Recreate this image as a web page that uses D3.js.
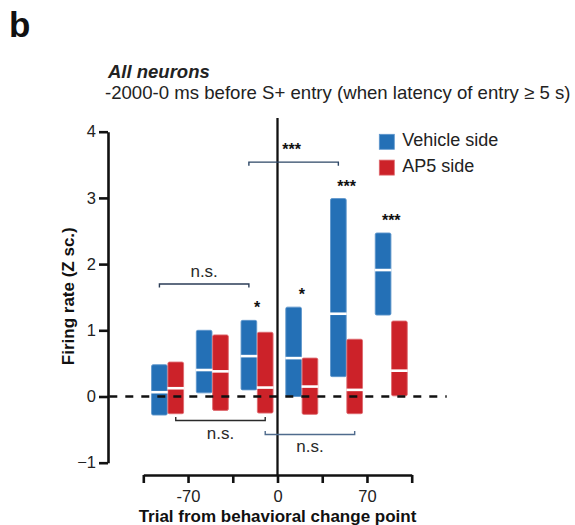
<!DOCTYPE html>
<html>
<head>
<meta charset="utf-8">
<script src="https://cdn.jsdelivr.net/npm/d3@7/dist/d3.min.js"></script>
<style>
  html, body { margin: 0; padding: 0; background: #fff; }
  svg { display: block; font-family: "Liberation Sans", Arial, Helvetica, sans-serif; }
</style>
</head>
<body>
<svg id="chart" width="575" height="525"></svg>
<script>
// Trial bins (centre, in trials from the behavioural change point)
const binCenters = [-86, -51, -16, 19, 54, 89];

// Vehicle side: interquartile box (low/high) and median, Z-scored firing rate
const vehicleLow    = [-0.28, 0.055, 0.10, 0.00, 0.30, 1.23];
const vehicleHigh   = [ 0.48, 1.00,  1.15, 1.35, 2.99, 2.47];
const vehicleMedian = [ 0.065, 0.40, 0.61, 0.58, 1.25, 1.91];

// AP5 side
const ap5Low    = [-0.26, -0.21, -0.25, -0.27, -0.26, 0.01];
const ap5High   = [ 0.52,  0.93,  0.97,  0.58,  0.865, 1.14];
const ap5Median = [ 0.125, 0.38,  0.135, 0.15,  0.10,  0.39];

// Per-bin significance of the vehicle vs AP5 comparison
const binStars = ["", "", "*", "*", "***", "***"];

// Between-bin comparisons: series, first bin index, second bin index, result
const comparisons = [
  { series: "vehicle", from: 0, to: 2, label: "n.s.", level: 1.70,  side: "above" },
  { series: "vehicle", from: 2, to: 4, label: "***",  level: 3.54,  side: "above" },
  { series: "ap5",     from: 0, to: 2, label: "n.s.", level: -0.363, side: "below" },
  { series: "ap5",     from: 2, to: 4, label: "n.s.", level: -0.574, side: "below" }
];

const xTicks = [-105, -70, -35, 0, 35, 70, 105];
const xTickLabels = ["", "-70", "", "0", "", "70", ""];
const yTicks = [-1, 0, 1, 2, 3, 4];

const seriesNames = ["Vehicle side", "AP5 side"];
const colors = { vehicle: "#2470b6", ap5: "#cc2229" };
const edgeColors = { vehicle: "#5f96cc", ap5: "#de6a6f" };
const bracketColors = ["#2b3d57", "#2d4766", "#2a2a2a", "#4f6b8d"];

const svg = d3.select("#chart");

const x = d3.scaleLinear().domain([-105, 105]).range([143.3, 411.7]);
const y = d3.scaleLinear().domain([-1, 4]).range([462.7, 131.7]);
const sub = d3.scaleBand().domain(["vehicle", "ap5"]).range([-16, 16]).paddingInner(0.04);

// panel letter
svg.append("text").attr("x", 9).attr("y", 37)
  .style("font-size", "35px").style("font-weight", "bold").attr("fill", "#111").text("b");

// titles
svg.append("text").attr("x", 108).attr("y", 77.7)
  .style("font-size", "18.5px").style("font-weight", "bold").style("font-style", "italic")
  .attr("fill", "#222").text("All neurons");
svg.append("text").attr("x", 105).attr("y", 99)
  .style("font-size", "18.6px").attr("fill", "#222")
  .text("-2000-0 ms before S+ entry (when latency of entry \u2265 5 s)");

// y axis
const yAxis = svg.append("g").attr("transform", "translate(108,0)")
  .call(d3.axisLeft(y).tickValues(yTicks).tickFormat(d3.format("d"))
    .tickSize(9).tickSizeOuter(0).tickPadding(3));
yAxis.select(".domain").attr("stroke", "#111").attr("stroke-width", 2.6);
yAxis.selectAll(".tick line").attr("stroke", "#111").attr("stroke-width", 2.6);
yAxis.selectAll(".tick text").style("font-size", "16.5px").attr("fill", "#222")
  .style("font-family", "'Liberation Sans', Arial, sans-serif");

// x axis
const xAxis = svg.append("g").attr("transform", "translate(0,475)")
  .call(d3.axisBottom(x).tickValues(xTicks).tickSize(8).tickSizeOuter(0).tickPadding(7)
    .tickFormat((d, i) => xTickLabels[i]));
xAxis.select(".domain").attr("stroke", "#111").attr("stroke-width", 2.6);
xAxis.selectAll(".tick line").attr("stroke", "#111").attr("stroke-width", 2.6);
xAxis.selectAll(".tick text").style("font-size", "16.5px").attr("fill", "#222")
  .style("font-family", "'Liberation Sans', Arial, sans-serif");

// axis titles
svg.append("text")
  .attr("transform", `translate(74,${(y(4) + y(-1)) / 2 - 1}) rotate(-90)`)
  .attr("text-anchor", "middle")
  .style("font-size", "17px").style("font-weight", "bold").attr("fill", "#111")
  .text("Firing rate (Z sc.)");
svg.append("text").attr("x", (x(-105) + x(105)) / 2).attr("y", 521.7)
  .attr("text-anchor", "middle")
  .style("font-size", "17px").style("font-weight", "bold").attr("fill", "#111")
  .text("Trial from behavioral change point");

// change-point line
svg.append("line").attr("x1", x(0)).attr("x2", x(0)).attr("y1", 118).attr("y2", 475)
  .attr("stroke", "#111").attr("stroke-width", 2.3);

// boxes
const boxes = [];
binCenters.forEach((c, i) => {
  boxes.push({ series: "vehicle", c, lo: vehicleLow[i], hi: vehicleHigh[i], med: vehicleMedian[i] });
  boxes.push({ series: "ap5", c, lo: ap5Low[i], hi: ap5High[i], med: ap5Median[i] });
});

const g = svg.append("g");
g.selectAll("rect.box").data(boxes).join("rect").attr("class", "box")
  .attr("x", d => x(d.c) + sub(d.series))
  .attr("width", sub.bandwidth())
  .attr("y", d => y(d.hi))
  .attr("height", d => y(d.lo) - y(d.hi))
  .attr("rx", 1.5)
  .attr("fill", d => colors[d.series])
  .attr("stroke", d => edgeColors[d.series])
  .attr("stroke-width", 0.9);

g.selectAll("line.med").data(boxes).join("line").attr("class", "med")
  .attr("x1", d => x(d.c) + sub(d.series) - 0.5)
  .attr("x2", d => x(d.c) + sub(d.series) + sub.bandwidth() + 0.5)
  .attr("y1", d => y(d.med)).attr("y2", d => y(d.med))
  .attr("stroke", "#fff").attr("stroke-width", 2.6);

// zero reference
svg.append("line").attr("x1", 109.3).attr("x2", 446.7).attr("y1", y(0)).attr("y2", y(0))
  .attr("stroke", "#111").attr("stroke-width", 2.5).attr("stroke-dasharray", "8,8");

// per-bin stars
svg.selectAll("text.star").data(binCenters.map((c, i) => ({
    c, s: binStars[i], top: Math.max(vehicleHigh[i], ap5High[i]) })).filter(d => d.s))
  .join("text").attr("class", "star")
  .attr("x", d => x(d.c)).attr("y", d => y(d.top) - 16 + 9)
  .attr("text-anchor", "middle").style("font-size", "16px").style("font-weight", "bold")
  .attr("fill", "#111")
  .text(d => d.s);

// comparison brackets
const seriesX = (s, i) => x(binCenters[i]) + sub(s) + sub.bandwidth() / 2;
comparisons.forEach((cmp, k) => {
  const x1 = seriesX(cmp.series, cmp.from), x2 = seriesX(cmp.series, cmp.to);
  const yy = y(cmp.level);
  const dir = cmp.side === "above" ? 1 : -1;
  svg.append("path")
    .attr("d", `M${x1},${yy + 3.5 * dir}V${yy}H${x2}V${yy + 3.5 * dir}`)
    .attr("fill", "none").attr("stroke", bracketColors[k]).attr("stroke-width", 1.4);
  const isStar = cmp.label.indexOf("*") >= 0;
  const t = svg.append("text").attr("x", (x1 + x2) / 2 - (isStar ? 2 : 0))
    .attr("text-anchor", "middle").attr("fill", isStar ? "#111" : "#2a2a2a")
    .style("font-size", isStar ? "16px" : "17px")
    .style("font-weight", isStar ? "bold" : "normal").text(cmp.label);
  if (cmp.side === "above") {
    t.attr("y", isStar ? yy - 16 + 9 : yy - 7);
  } else {
    t.attr("y", yy + 18);
  }
});

// legend
const legend = svg.append("g");
["vehicle", "ap5"].forEach((s, i) => {
  legend.append("rect").attr("x", 379.3).attr("y", 134.3 + i * 25.8)
    .attr("width", 15).attr("height", 15).attr("fill", colors[s])
    .attr("stroke", edgeColors[s]).attr("stroke-width", 0.8);
  legend.append("text").attr("x", 402.3).attr("y", 146.3 + i * 25.8)
    .style("font-size", "18px").attr("fill", "#222").text(seriesNames[i]);
});
</script>
</body>
</html>
